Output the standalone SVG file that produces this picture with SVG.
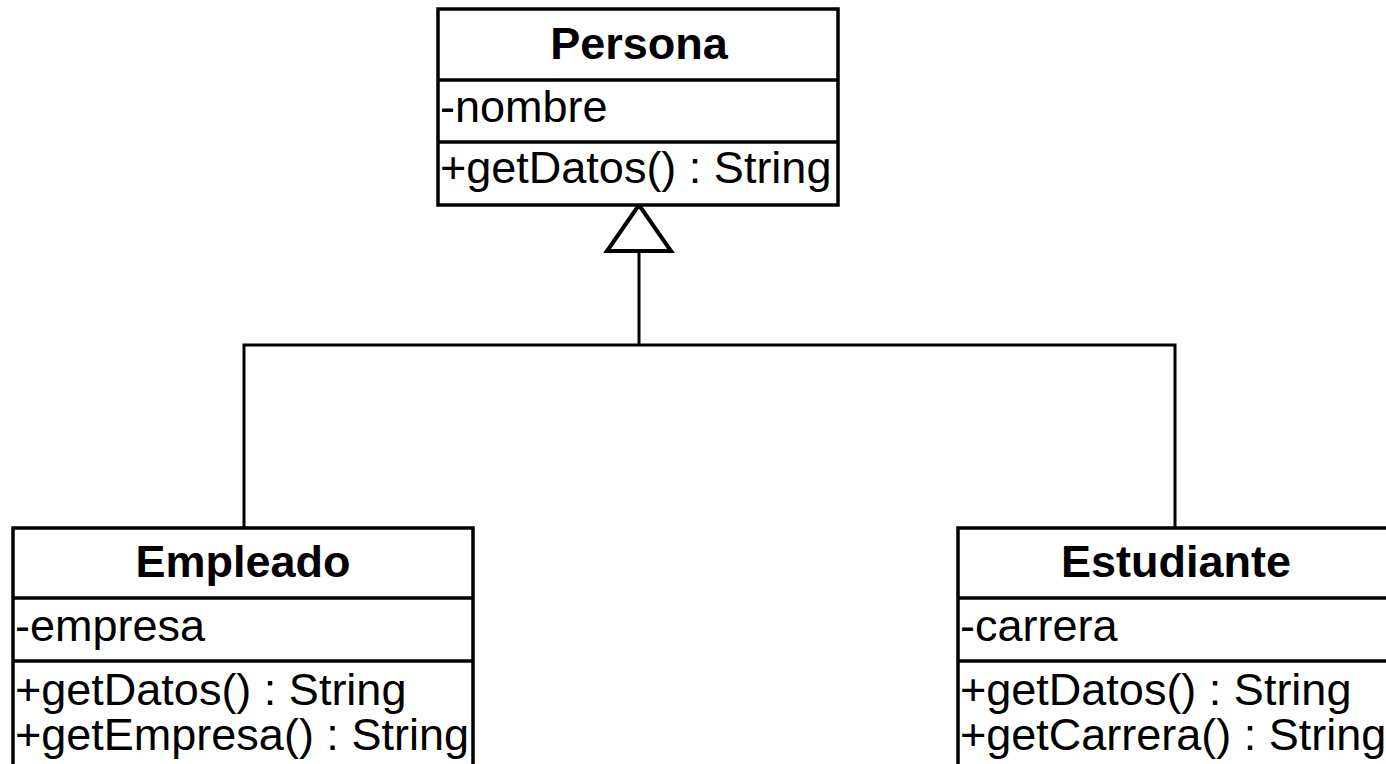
<svg xmlns="http://www.w3.org/2000/svg" width="1386" height="764" viewBox="0 0 1386 764">
<style>
.box{fill:#fff;stroke:#000;stroke-width:3.5}
.div{stroke:#000;stroke-width:3.5}
.t{font-family:"Liberation Sans",Arial,sans-serif;font-size:45px;fill:#000}
.title{font-weight:bold;text-anchor:middle}
.conn{fill:none;stroke:#000;stroke-width:3}
.tri{fill:#fff;stroke:#000;stroke-width:4}
</style>
<rect width="1386" height="764" fill="#fff"/>
<g id="connectors">
<polyline class="conn" points="244,528 244,345 1175,345 1175,528"/>
<line class="conn" x1="639" y1="345" x2="639" y2="251"/>
<polygon class="tri" points="639,205 607,251 671,251"/>
</g>
<g id="persona">
<rect class="box" x="438" y="9" width="400" height="196"/>
<line class="div" x1="438" y1="80" x2="838" y2="80"/>
<line class="div" x1="438" y1="142" x2="838" y2="142"/>
<text class="t title" x="639" y="59">Persona</text>
<text class="t" x="440" y="122">-nombre</text>
<text class="t" x="440" y="183">+getDatos() : String</text>
</g>
<g id="empleado">
<rect class="box" x="13" y="528" width="460" height="260"/>
<line class="div" x1="13" y1="598" x2="473" y2="598"/>
<line class="div" x1="13" y1="661" x2="473" y2="661"/>
<text class="t title" x="243" y="577">Empleado</text>
<text class="t" x="15" y="641">-empresa</text>
<text class="t" x="15" y="705">+getDatos() : String</text>
<text class="t" x="15" y="750">+getEmpresa() : String</text>
</g>
<g id="estudiante">
<rect class="box" x="958" y="528" width="436" height="260"/>
<line class="div" x1="958" y1="598" x2="1394" y2="598"/>
<line class="div" x1="958" y1="661" x2="1394" y2="661"/>
<text class="t title" x="1176" y="577">Estudiante</text>
<text class="t" x="960" y="641">-carrera</text>
<text class="t" x="960" y="705">+getDatos() : String</text>
<text class="t" x="960" y="750">+getCarrera() : String</text>
</g>
</svg>
